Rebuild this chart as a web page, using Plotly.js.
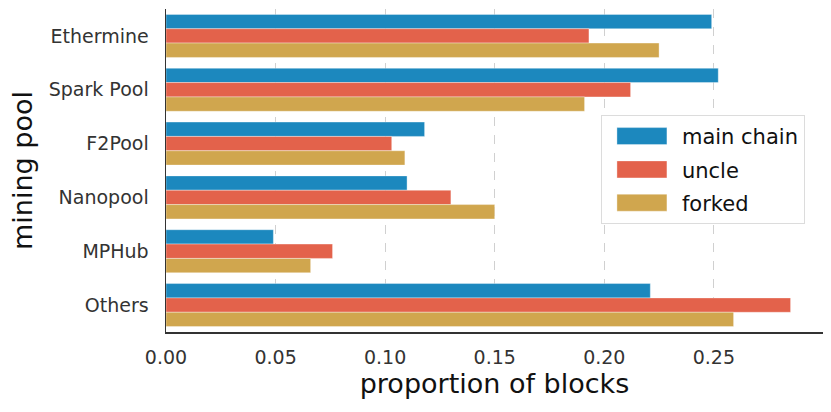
<!DOCTYPE html>
<html>
<head>
<meta charset="utf-8">
<script src="https://cdn.plot.ly/plotly-3.0.1.min.js"></script>
<style>
  html, body { margin: 0; padding: 0; background: #fff; }
  #chart { width: 831px; height: 412px; }
</style>
</head>
<body>
<div id="chart"></div>
<script>
// mining pools, top to bottom
var pools = ['Ethermine', 'Spark Pool', 'F2Pool', 'Nanopool', 'MPHub', 'Others'];

// proportion of blocks per pool
var mainChain = [0.249, 0.252, 0.118, 0.110, 0.049, 0.221];
var uncle     = [0.193, 0.212, 0.103, 0.130, 0.076, 0.285];
var forked    = [0.225, 0.191, 0.109, 0.150, 0.066, 0.259];

var xTicks = [0, 0.05, 0.10, 0.15, 0.20, 0.25];

var font = 'DejaVu Sans, sans-serif';

function barTrace(name, values, color) {
    return {
        type: 'bar',
        orientation: 'h',
        name: name,
        legendgroup: name,
        y: pools,
        x: values,
        marker: {
            color: color,
            line: {color: 'rgba(255,255,255,0.6)', width: 0.6}
        },
        hoverinfo: 'skip'
    };
}

var data = [
    barTrace('main chain', mainChain, '#1c88be'),
    barTrace('uncle', uncle, '#e3624b'),
    barTrace('forked', forked, '#d0a64e')
];

var layout = {
    width: 831,
    height: 412,
    margin: {l: 166, r: 8, t: 9, b: 80},
    paper_bgcolor: '#fff',
    plot_bgcolor: '#fff',
    barmode: 'group',
    bargap: 0.2,
    bargroupgap: 0,
    font: {family: font, color: '#333'},
    xaxis: {
        range: [0, 0.2998],
        tickvals: xTicks,
        ticktext: xTicks.map(function (v) { return v.toFixed(2); }),
        tickfont: {size: 19, color: '#333'},
        ticks: '',
        ticklabelstandoff: 8,
        showgrid: true,
        gridcolor: '#d0d0d0',
        griddash: 'dash',
        gridwidth: 1,
        zeroline: false,
        showline: true,
        linecolor: '#333',
        linewidth: 1.5,
        title: {text: 'proportion of blocks', font: {size: 27, color: '#111'}, standoff: 6}
    },
    yaxis: {
        autorange: 'reversed',
        tickfont: {size: 19, color: '#333'},
        ticks: '',
        ticklabelstandoff: 12,
        showgrid: false,
        zeroline: false,
        showline: true,
        linecolor: '#333',
        linewidth: 1.5,
        title: {text: 'mining pool', font: {size: 27, color: '#111'}, standoff: 8}
    },
    showlegend: true,
    legend: {
        x: 0.662,
        y: 0.672,
        xanchor: 'left',
        yanchor: 'top',
        traceorder: 'grouped',
        tracegroupgap: 3,
        bgcolor: '#fff',
        bordercolor: '#dcdcdc',
        borderwidth: 1,
        itemwidth: 70,
        font: {size: 21, color: '#111'}
    }
};

Plotly.newPlot('chart', data, layout, {displayModeBar: false, staticPlot: true}).then(function () {
    // widen the legend swatches to look like the long matplotlib patches
    document.querySelectorAll('.legend .legendpoints path').forEach(function (p) {
        p.setAttribute('d', 'M-25,8.5H25V-8.5H-25Z');
    });
});
</script>
</body>
</html>
